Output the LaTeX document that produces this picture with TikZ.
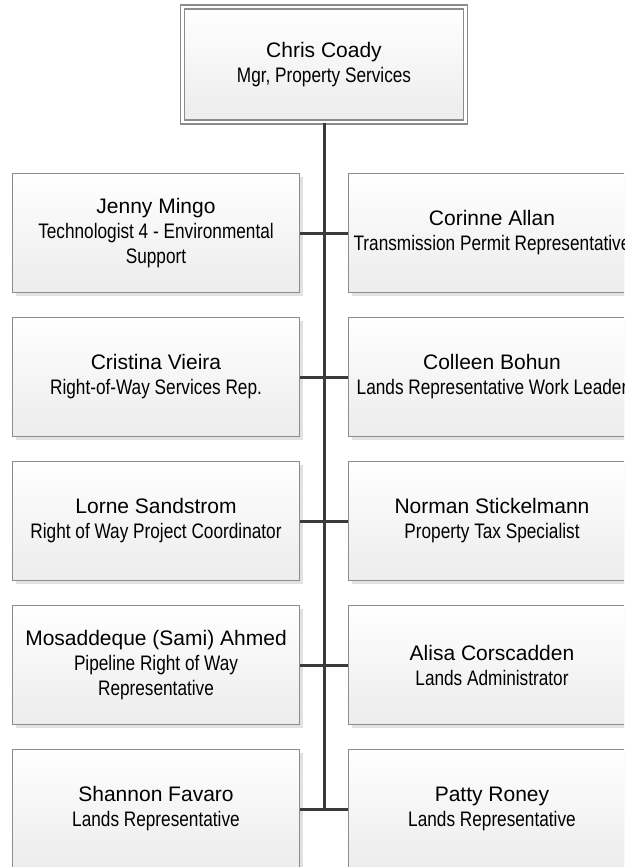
\documentclass[tikz,border=0pt]{standalone}
\usepackage{fontspec}
\setmainfont{Liberation Sans}
\newfontfamily\narrowfont[FakeStretch=0.82]{Liberation Sans}
\usetikzlibrary{shadows}
\definecolor{boxline}{HTML}{8C8C8C}
\definecolor{connline}{HTML}{3A3A3A}
\definecolor{shadowgray}{HTML}{E2E2E2}
\begin{document}
\begin{tikzpicture}[x=1pt,y=-1pt,
  card/.style={rectangle, draw=boxline, line width=1.4pt,
    top color=white, bottom color=gray!15,
    minimum width=287pt, minimum height=119pt, inner sep=0pt,
    align=center, font=\fontsize{21}{25}\selectfont,
    drop shadow={shadow xshift=3pt, shadow yshift=-3pt, fill=shadowgray, opacity=1}},
  headcard/.style={card, double=white, double distance=2.6pt,
    minimum width=282.5pt, minimum height=115pt},
  conn/.style={draw=connline, line width=3pt}]
\useasboundingbox (0,0) rectangle (624,867);
\clip (0,0) rectangle (624,867);

% manager
\node[headcard] (top) at (324,64.5) {Chris Coady\\\narrowfont Mgr, Property Services};

% left column
\node[card] (l1) at (156,233) {Jenny Mingo\\\narrowfont Technologist 4 - Environmental\\\narrowfont Support};
\node[card] (l2) at (156,377) {Cristina Vieira\\\narrowfont Right-of-Way Services Rep.};
\node[card] (l3) at (156,521) {Lorne Sandstrom\\\narrowfont Right of Way Project Coordinator};
\node[card] (l4) at (156,665) {Mosaddeque (Sami) Ahmed\\\narrowfont Pipeline Right of Way\\\narrowfont Representative};
\node[card] (l5) at (156,809) {Shannon Favaro\\\narrowfont Lands Representative};

% right column
\node[card] (r1) at (492,233) {Corinne Allan\\\narrowfont Transmission Permit Representative};
\node[card] (r2) at (492,377) {Colleen Bohun\\\narrowfont Lands Representative Work Leader};
\node[card] (r3) at (492,521) {Norman Stickelmann\\\narrowfont Property Tax Specialist};
\node[card] (r4) at (492,665) {Alisa Corscadden\\\narrowfont Lands Administrator};
\node[card] (r5) at (492,809) {Patty Roney\\\narrowfont Lands Representative};

% reporting lines
\draw[conn] (top.south) -- (top.south |- l5.east);
\foreach \i in {1,...,5}{
  \draw[conn] (l\i.east) -- (r\i.west);
}
\end{tikzpicture}
\end{document}
